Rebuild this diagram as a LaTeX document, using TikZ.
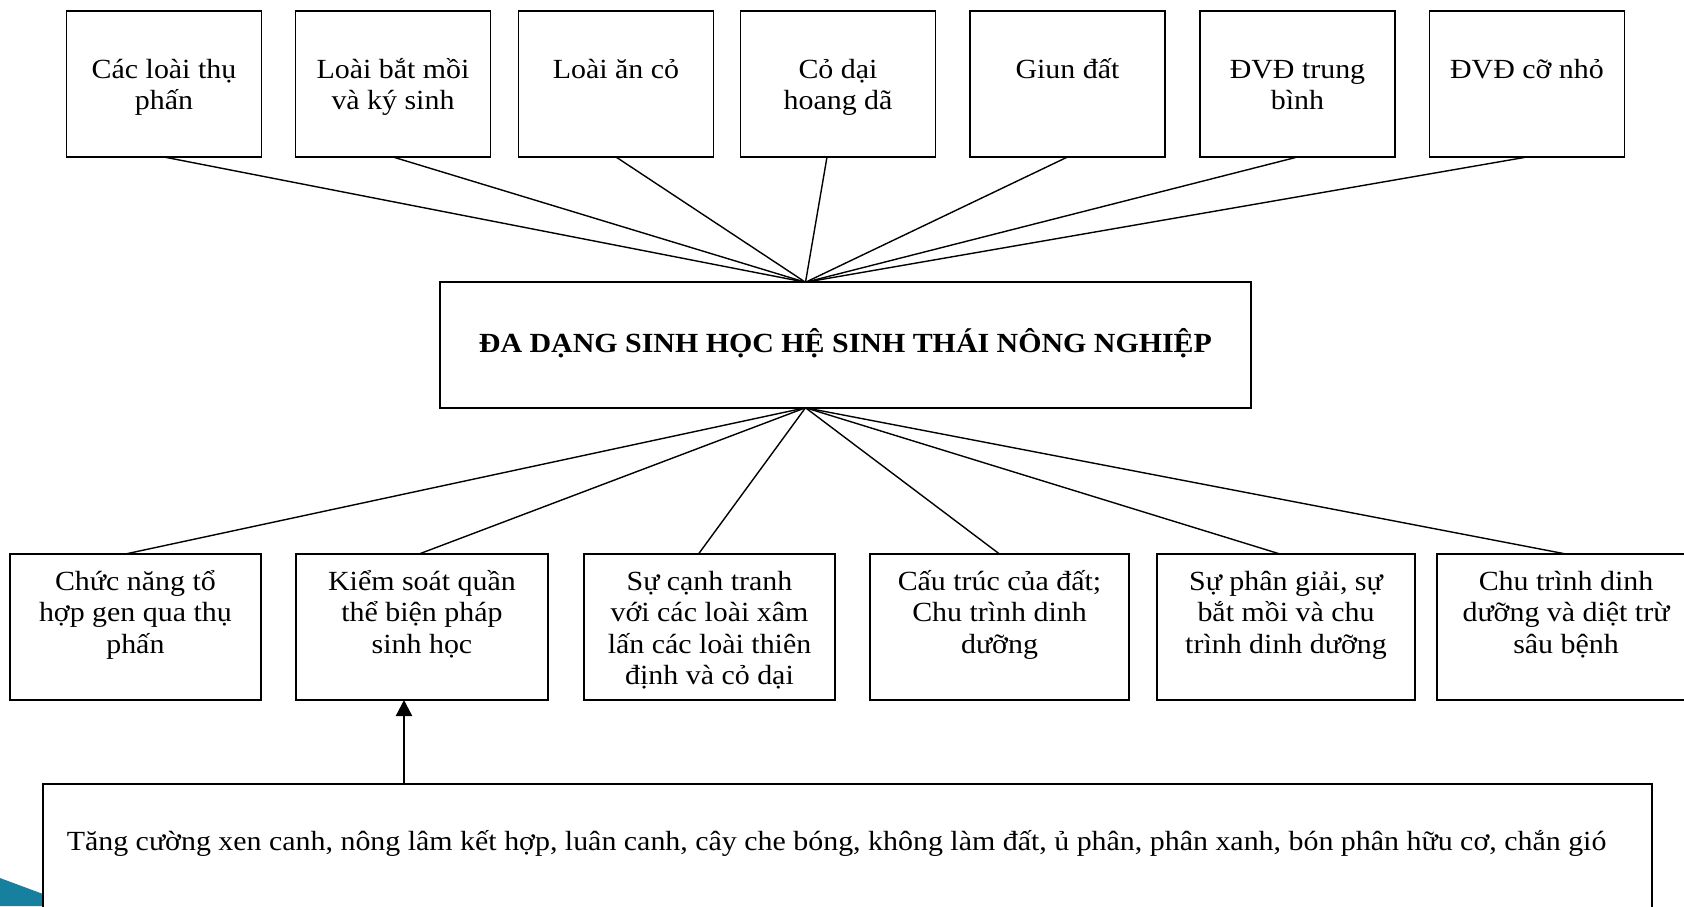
\documentclass[tikz,border=0pt]{standalone}
\usepackage{fontspec}
\setmainfont{Liberation Serif}[FakeStretch=1.08]
\usetikzlibrary{arrows.meta}
\definecolor{deco}{RGB}{22,128,158}
\begin{document}
\begin{tikzpicture}[x=1pt,y=-1pt,
  box/.style={draw, line width=1.6pt, fill=white, inner sep=0pt, outer sep=0pt},
  topbox/.style={box, minimum width=195pt, minimum height=146pt},
  botbox/.style={box, minimum height=146pt},
  txt/.style={align=center, inner sep=0pt, anchor=base, font=\fontsize{27.7}{31.5}\selectfont},
  link/.style={line width=1.4pt},
  arr/.style={line width=2.4pt, -{Triangle[length=16pt,width=16pt]}}]
\useasboundingbox (0,0) rectangle (1684,906);

% decorative corner shape
\fill[deco] (0,878) -- (70,904) -- (70,906) -- (0,906) -- cycle;

% top boxes
\node[topbox] (t1) at (164,84) {};
\node[topbox] (t2) at (393,84) {};
\node[topbox] (t3) at (616,84) {};
\node[topbox] (t4) at (838,84) {};
\node[topbox] (t5) at (1067.5,84) {};
\node[topbox] (t6) at (1297.5,84) {};
\node[topbox] (t7) at (1527,84) {};
% base anchor = baseline of the last line
\node[txt] (t1l) at (164,109.5) {Các loài thụ\\phấn};
\node[txt] (t2l) at (393,109.5) {Loài bắt mồi\\và ký sinh};
\node[txt] (t3l) at (616,78) {Loài ăn cỏ};
\node[txt] (t4l) at (838,109.5) {Cỏ dại\\hoang dã};
\node[txt] (t5l) at (1067.5,78) {Giun đất};
\node[txt] (t6l) at (1297.5,109.5) {ĐVĐ trung\\bình};
\node[txt] (t7l) at (1527,78) {ĐVĐ cỡ nhỏ};

% central box
\node[box, minimum width=811pt, minimum height=125.5pt] (c) at (845.5,345) {};
\node[txt, font=\fontsize{27.7}{31.5}\selectfont\bfseries] (cl) at (845.5,352) {ĐA DẠNG SINH HỌC HỆ SINH THÁI NÔNG NGHIỆP};

\coordinate (ctop) at ([xshift=-40pt]c.north);
\coordinate (cbot) at ([xshift=-40pt]c.south);

% bottom boxes
\node[botbox, minimum width=251pt] (b1) at (135.4,627) {};
\node[botbox, minimum width=252pt] (b2) at (422,627) {};
\node[botbox, minimum width=251pt] (b3) at (709.5,627) {};
\node[botbox, minimum width=259pt] (b4) at (999.5,627) {};
\node[botbox, minimum width=258.5pt] (b5) at (1286,627) {};
\node[botbox, minimum width=258pt] (b6) at (1566,627) {};
\node[txt] (b1l) at (135.4,653) {Chức năng tổ\\hợp gen qua thụ\\phấn};
\node[txt] (b2l) at (422,653) {Kiểm soát quần\\thể biện pháp\\sinh học};
\node[txt] (b3l) at (709.5,684.5) {Sự cạnh tranh\\với các loài xâm\\lấn các loài thiên\\định và cỏ dại};
\node[txt] (b4l) at (999.5,653) {Cấu trúc của đất;\\Chu trình dinh\\dưỡng};
\node[txt] (b5l) at (1286,653) {Sự phân giải, sự\\bắt mồi và chu\\trình dinh dưỡng};
\node[txt] (b6l) at (1566,653) {Chu trình dinh\\dưỡng và diệt trừ\\sâu bệnh};

% connectors top
\draw[link] (t1.south) -- (ctop);
\draw[link] (t2.south) -- (ctop);
\draw[link] (t3.south) -- (ctop);
\draw[link] ([xshift=-11pt]t4.south) -- (ctop);
\draw[link] (t5.south) -- (ctop);
\draw[link] (t6.south) -- (ctop);
\draw[link] (t7.south) -- (ctop);

% connectors bottom
\draw[link] (cbot) -- ([xshift=-10pt]b1.north);
\draw[link] (cbot) -- ([xshift=-3pt]b2.north);
\draw[link] (cbot) -- ([xshift=-11pt]b3.north);
\draw[link] (cbot) -- (b4.north);
\draw[link] (cbot) -- ([xshift=-6pt]b5.north);
\draw[link] (cbot) -- (b6.north);

% long box
\node[box, minimum width=1609pt, minimum height=176pt] (L) at (847.5,872) {};
\node[txt, anchor=base west] (Ll) at (66.6,850) {Tăng cường xen canh, nông lâm kết hợp, luân canh, cây che bóng, không làm đất, ủ phân, phân xanh, bón phân hữu cơ, chắn gió};

\draw[arr] ([xshift=-18pt]b2.south |- L.north) -- ([xshift=-18pt]b2.south);
\end{tikzpicture}
\end{document}
